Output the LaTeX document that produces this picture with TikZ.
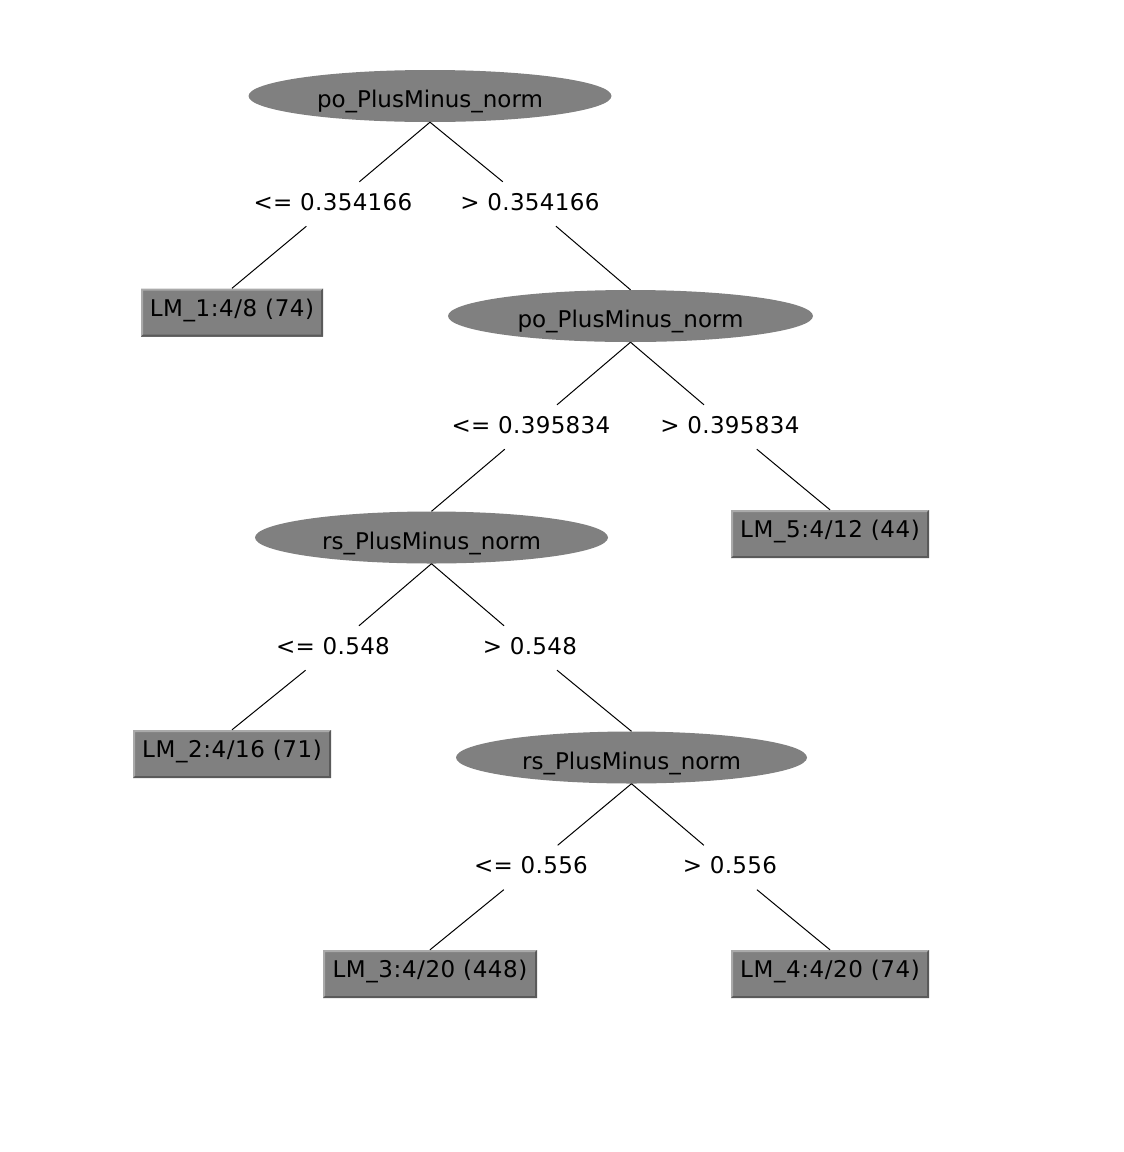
\documentclass[tikz,border=0pt]{standalone}
\usepackage{fontspec}
\setmainfont{DejaVu Sans}
\newfontfamily\condfont[LetterSpace=1.5]{DejaVu Sans}
\newfontfamily\leaffont[LetterSpace=2.5]{DejaVu Sans}
\usetikzlibrary{shapes.geometric}
\definecolor{nodegray}{HTML}{808080}
\definecolor{bevlight}{HTML}{AAAAAA}
\definecolor{bevdark}{HTML}{5A5A5A}
\tikzset{
  split/.style={ellipse, fill=nodegray, inner sep=0pt, minimum height=52pt,
    text height=23.6pt, text depth=0pt, font=\fontsize{23}{27}\selectfont},
  cond/.style={rectangle, inner sep=0pt, minimum height=44pt,
    text height=17pt, text depth=5pt, font=\condfont\fontsize{23}{27}\selectfont},
  leaf/.style={rectangle, fill=nodegray, inner sep=0pt, minimum height=48pt,
    text height=16.8pt, text depth=9pt, font=\leaffont\fontsize{23}{27}\selectfont,
    path picture={
      \fill[bevlight] (path picture bounding box.south west)
        -- (path picture bounding box.north west)
        -- (path picture bounding box.north east)
        -- ([shift={(-2pt,-2pt)}]path picture bounding box.north east)
        -- ([shift={(2pt,-2pt)}]path picture bounding box.north west)
        -- ([shift={(2pt,2pt)}]path picture bounding box.south west) -- cycle;
      \fill[bevdark] (path picture bounding box.south west)
        -- (path picture bounding box.south east)
        -- (path picture bounding box.north east)
        -- ([shift={(-2pt,-2pt)}]path picture bounding box.north east)
        -- ([shift={(-2pt,2pt)}]path picture bounding box.south east)
        -- ([shift={(2pt,2pt)}]path picture bounding box.south west) -- cycle;
    }},
  branch/.style={draw=black, line width=1pt},
}
\begin{document}
\begin{tikzpicture}[x=1pt, y=-1pt]
  \useasboundingbox[fill=white] (0,0) rectangle (1124,1152);

  % split nodes
  \node[split, minimum width=363pt] (n1) at (430,96) {po\_PlusMinus\_norm};
  \node[split, minimum width=365pt] (n2) at (630.5,316) {po\_PlusMinus\_norm};
  \node[split, minimum width=353pt] (n3) at (431.5,537.5) {rs\_PlusMinus\_norm};
  \node[split, minimum width=351pt] (n4) at (631.5,757.5) {rs\_PlusMinus\_norm};

  % leaf models
  \node[leaf, minimum width=182pt] (lm1) at (232,312.5) {LM\_1:4/8 (74)};
  \node[leaf, minimum width=198pt] (lm5) at (830,534) {LM\_5:4/12 (44)};
  \node[leaf, minimum width=198pt] (lm2) at (232,754) {LM\_2:4/16 (71)};
  \node[leaf, minimum width=214pt] (lm3) at (430,974) {LM\_3:4/20 (448)};
  \node[leaf, minimum width=198pt] (lm4) at (830,974) {LM\_4:4/20 (74)};

  % branch conditions
  \node[cond] (c1l) at (333,204) {<= 0.354166};
  \node[cond] (c1r) at (530,204) {> 0.354166};
  \node[cond] (c2l) at (531,427) {<= 0.395834};
  \node[cond] (c2r) at (730,427) {> 0.395834};
  \node[cond] (c3l) at (333,648) {<= 0.548};
  \node[cond] (c3r) at (530,648) {> 0.548};
  \node[cond] (c4l) at (531,867.5) {<= 0.556};
  \node[cond] (c4r) at (730,867.5) {> 0.556};

  % branches: parent -- condition -- child
  \foreach \p/\c/\k in {n1/c1l/lm1, n1/c1r/n2,
                        n2/c2l/n3, n2/c2r/lm5,
                        n3/c3l/lm2, n3/c3r/n4,
                        n4/c4l/lm3, n4/c4r/lm4} {
    \draw[branch] (\p.south) -- (\c);
    \draw[branch] (\c) -- (\k.north);
  }
\end{tikzpicture}
\end{document}
